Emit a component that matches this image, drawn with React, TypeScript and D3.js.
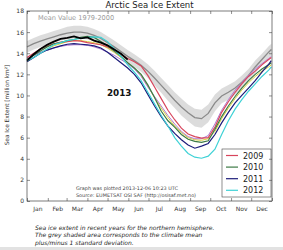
import { useRef, useEffect } from "react";
import * as d3 from "d3";

// day of year for each sample
const days = [0, 10, 20, 30, 40, 50, 60, 70, 80, 90, 100, 110, 120, 130, 140, 150, 160, 170, 180, 190, 200, 210, 220, 230, 240, 250, 260, 270, 280, 290, 300, 310, 320, 330, 340, 350, 360, 364];

const meanValue = [14.6, 14.9, 15.15, 15.35, 15.55, 15.75, 15.9, 16.0, 16.0, 15.9, 15.7, 15.4, 15.0, 14.6, 14.15, 13.7, 13.3, 12.85, 12.3, 11.65, 10.95, 10.25, 9.55, 8.9, 8.35, 7.9, 7.8, 8.3, 9.3, 9.95, 10.3, 10.7, 11.25, 11.9, 12.7, 13.4, 14.1, 14.35];
const meanStd = [0.55, 0.55, 0.55, 0.55, 0.55, 0.55, 0.6, 0.6, 0.6, 0.6, 0.6, 0.6, 0.6, 0.6, 0.6, 0.6, 0.6, 0.6, 0.65, 0.7, 0.7, 0.75, 0.75, 0.8, 0.8, 0.85, 0.85, 0.85, 0.8, 0.7, 0.7, 0.65, 0.65, 0.6, 0.6, 0.55, 0.55, 0.55];

const otherYellow = [13.2, 13.6, 14.0, 14.4, 14.7, 14.9, 15.1, 15.2, 15.2, 15.1, 15.0, 14.8, 14.5, 14.1, 13.6, 13.1, 12.6, 11.9, 10.9, 9.8, 8.8, 7.9, 7.1, 6.5, 6.0, 5.8, 5.75, 5.9, 6.6, 7.8, 8.8, 9.7, 10.5, 11.2, 11.8, 12.3, 12.7, 12.9];
const otherPurple = [13.5, 13.8, 14.1, 14.3, 14.5, 14.65, 14.75, 14.8, 14.8, 14.75, 14.6, 14.4, 14.1, 13.8, 13.4, 13.0, 12.5, 11.8, 10.8, 9.9, 9.0, 8.1, 7.3, 6.6, 6.1, 5.9, 5.9, 6.2, 7.3, 8.6, 9.6, 10.5, 11.2, 11.9, 12.5, 13.0, 13.5, 13.7];

const y2009 = [13.6, 14.0, 14.4, 14.7, 14.9, 15.05, 15.1, 15.2, 15.15, 15.0, 14.9, 14.8, 14.6, 14.3, 13.9, 13.5, 13.2, 12.8, 11.9, 10.8, 9.7, 8.6, 7.7, 6.9, 6.35, 6.1, 5.95, 6.0, 7.0, 8.4, 9.4, 10.3, 11.1, 11.8, 12.3, 12.9, 13.4, 13.6];
const y2010 = [13.4, 13.8, 14.2, 14.6, 14.9, 15.0, 15.2, 15.3, 15.5, 15.6, 15.5, 15.1, 14.7, 14.2, 13.7, 13.1, 12.6, 12.0, 11.0, 9.8, 8.5, 7.6, 7.0, 6.3, 5.85, 5.65, 5.55, 5.7, 6.8, 8.0, 9.0, 9.9, 10.7, 11.4, 12.0, 12.5, 12.9, 13.1];
const y2011 = [13.2, 13.6, 14.0, 14.3, 14.5, 14.7, 14.85, 14.9, 14.85, 14.8, 14.7, 14.5, 14.1, 13.6, 13.1, 12.6, 12.0, 11.2, 10.1, 9.0, 8.0, 7.1, 6.4, 5.8, 5.3, 5.0, 5.2, 5.45, 6.3, 7.4, 8.4, 9.3, 10.0, 10.7, 11.4, 12.2, 12.95, 13.3];
const y2012 = [13.3, 13.6, 14.0, 14.4, 14.8, 15.0, 15.2, 15.3, 15.4, 15.5, 15.55, 15.5, 15.1, 14.4, 13.7, 12.9, 12.2, 11.4, 10.3, 9.2, 8.1, 7.1, 6.0, 5.2, 4.5, 4.15, 4.05, 4.25, 4.9, 6.3, 7.6, 8.7, 9.6, 10.4, 11.1, 11.8, 12.4, 12.7];
const days2013 = [0, 10, 20, 30, 40, 50, 60, 70, 80, 90, 100, 110, 120, 130, 140, 150];
const y2013 = [13.3, 13.9, 14.4, 14.8, 15.1, 15.35, 15.45, 15.6, 15.4, 15.5, 15.2, 15.0, 14.75, 14.35, 13.95, 13.4];

const monthNames = ["Jan", "Feb", "Mar", "Apr", "May", "Jun", "Jul", "Aug", "Sep", "Oct", "Nov", "Dec"];
const monthStarts = [0, 31, 59, 90, 120, 151, 181, 212, 243, 273, 304, 334, 365];
const yTicks = [0, 2, 4, 6, 8, 10, 12, 14, 16, 18];

const legendYears = ["2009", "2010", "2011", "2012"];
const legendColors = ["#d8455c", "#3d7a45", "#1c1c7a", "#3fd2d6"];

const W = 283;
const H = 250;
const margin = { top: 11, right: 11, bottom: 49, left: 27 };
const font = "DejaVu Sans, sans-serif";

const App = () => {
  const svgRef = useRef<SVGSVGElement>(null);

  const x = d3.scaleLinear().domain([0, 365]).range([margin.left, W - margin.right]);
  const y = d3.scaleLinear().domain([0, 18]).range([H - margin.bottom, margin.top]);

  useEffect(() => {
    const svg: any = d3.select(svgRef.current);
    const mids = monthStarts.slice(0, 12).map((d, i) => (d + monthStarts[i + 1]) / 2);

    const yAxis = d3.axisLeft(y).tickValues(yTicks).tickSize(-3).tickPadding(3).tickFormat(d3.format("d"));
    svg.select(".y-axis").attr("transform", `translate(${margin.left},0)`).call(yAxis);
    const yAxisR = d3.axisRight(y).tickValues(yTicks).tickSize(-3).tickFormat(() => "");
    svg.select(".y-axis-r").attr("transform", `translate(${W - margin.right},0)`).call(yAxisR);

    const xTickAxis = d3.axisBottom(x).tickValues(monthStarts).tickSize(-3).tickFormat(() => "");
    svg.select(".x-ticks").attr("transform", `translate(0,${H - margin.bottom})`).call(xTickAxis);
    const xTickTop = d3.axisTop(x).tickValues(monthStarts).tickSize(-3).tickFormat(() => "");
    svg.select(".x-ticks-top").attr("transform", `translate(0,${margin.top})`).call(xTickTop);

    const xLab = d3.axisBottom(x).tickValues(mids).tickSize(0).tickPadding(6)
      .tickFormat((_: any, i: number) => monthNames[i]);
    svg.select(".x-labels").attr("transform", `translate(0,${H - margin.bottom})`).call(xLab);
    svg.select(".x-labels .domain").remove();

    svg.selectAll(".axis .domain").attr("stroke", "none");
    svg.selectAll(".axis line").attr("stroke", "#444").attr("stroke-width", 0.6);
    svg.selectAll(".axis text").attr("font-family", font).attr("font-size", 6).attr("fill", "#333");
  }, []);

  const line = (xs: number[], vs: number[]) =>
    d3.line<number>().x((_, i) => x(xs[i])).y((v) => y(v))(vs) || "";

  const band = d3.area<number>()
    .x((_, i) => x(days[i]))
    .y0((v, i) => y(v - meanStd[i]))
    .y1((v, i) => y(v + meanStd[i]))(meanValue) || "";

  const series = [y2009, y2010, y2011, y2012];
  const lx = 222;
  const ly = 149;

  return (
    <svg ref={svgRef} width={W} height={H} style={{ position: "absolute", left: 0, top: 0, background: "#fff" }}>
      <rect x={0} y={0} width={W} height={H} fill="#fff" />
      <rect x={0} y={247} width={W} height={3} fill="#e2e2e2" />
      <text x={(margin.left + W - margin.right) / 2} y={8} textAnchor="middle" fontFamily={font} fontSize={8.5} fill="#222">
        Arctic Sea Ice Extent
      </text>
      <path d={band} fill="#d6d6d6" opacity={0.85} />
      <path d={line(days, meanValue)} fill="none" stroke="#8a8a8a" strokeWidth={1.3} />
      <path d={line(days, otherYellow)} fill="none" stroke="#d9d13a" strokeWidth={1} />
      <path d={line(days, otherPurple)} fill="none" stroke="#b07ad0" strokeWidth={1} />
      {series.map((s, i) => (
        <path key={i} d={line(days, s)} fill="none" stroke={legendColors[i]} strokeWidth={1.2} />
      ))}
      <path d={line(days2013, y2013)} fill="none" stroke="#000" strokeWidth={1.8} />
      <text x={38} y={20} fontFamily={font} fontSize={6.6} fill="#9a9a9a">Mean Value 1979-2000</text>
      <text x={107} y={95.5} fontFamily={font} fontSize={8.8} fontWeight="bold" fill="#111">2013</text>
      <text x={76} y={190} fontFamily={font} fontSize={4.9} fill="#444">Graph was plotted 2013-12-06 10:23 UTC</text>
      <text x={76} y={196.5} fontFamily={font} fontSize={4.9} fill="#444">Source: EUMETSAT OSI SAF (http://osisaf.met.no)</text>
      <rect x={lx} y={ly} width={W - margin.right - lx - 1} height={48} fill="#fff" stroke="#444" strokeWidth={0.6} />
      {legendYears.map((yr, i) => (
        <g key={yr}>
          <line x1={lx + 4} x2={lx + 16} y1={ly + 6.5 + i * 11.6} y2={ly + 6.5 + i * 11.6} stroke={legendColors[i]} strokeWidth={1.2} />
          <text x={lx + 21} y={ly + 9.5 + i * 11.6} fontFamily={font} fontSize={8} fill="#222">{yr}</text>
        </g>
      ))}
      <rect x={margin.left} y={margin.top} width={W - margin.left - margin.right} height={H - margin.top - margin.bottom}
        fill="none" stroke="#444" strokeWidth={0.7} />
      <g className="axis y-axis" />
      <g className="axis y-axis-r" />
      <g className="axis x-ticks" />
      <g className="axis x-ticks-top" />
      <g className="axis x-labels" />
      <text transform={`translate(9,105) rotate(-90)`} textAnchor="middle" fontFamily={font} fontSize={5.8} fill="#333">
        Sea Ice Extent [million km²]
      </text>
      <text fontFamily={font} fontSize={6} fontStyle="italic" fill="#222">
        <tspan x={35} y={229.5}>Sea ice extent in recent years for the northern hemisphere.</tspan>
        <tspan x={35} y={237.3}>The grey shaded area corresponds to the climate mean</tspan>
        <tspan x={35} y={245}>plus/minus 1 standard deviation.</tspan>
      </text>
    </svg>
  );
};

export default App;
